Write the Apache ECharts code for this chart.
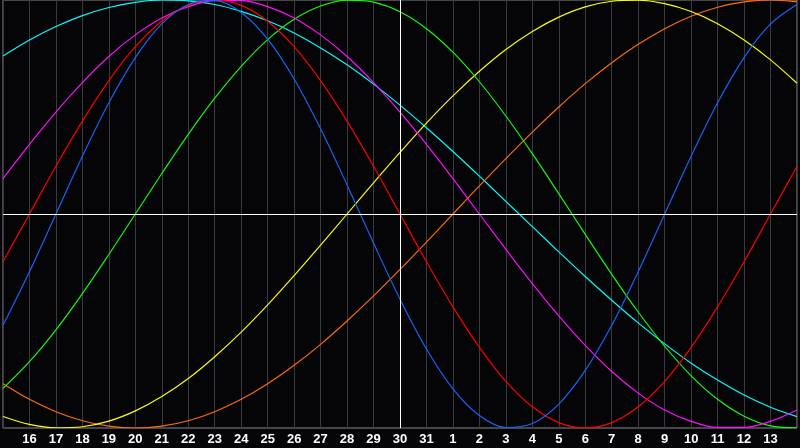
<!DOCTYPE html>
<html>
<head>
<meta charset="utf-8">
<script src="https://cdn.jsdelivr.net/npm/echarts@6/dist/echarts.min.js"></script>
<style>
html,body{margin:0;padding:0;background:#050508;}
#c{width:800px;height:448px;}
</style>
</head>
<body>
<div id="c"></div>
<script>
// Day labels (first and last are at the plot edges and are not labelled)
var days = ['15','16','17','18','19','20','21','22','23','24','25','26','27','28','29','30','31',
            '1','2','3','4','5','6','7','8','9','10','11','12','13','14'];
var todayLabel = '30';

// Cycle values in percent, one per day
var blueVals    = [-52.0,-27.0,0,27.0,52.0,73.1,88.8,97.9,99.8,94.2,81.7,63.1,39.8,13.6,-13.6,-39.8,-63.1,-81.7,-94.2,-99.8,-97.9,-88.8,-73.1,-52.0,-27.0,0,27.0,52.0,73.1,88.8,97.9];
var redVals     = [-22.3,0,22.3,43.4,62.3,78.2,90.1,97.5,100,97.5,90.1,78.2,62.3,43.4,22.3,0,-22.3,-43.4,-62.3,-78.2,-90.1,-97.5,-100,-97.5,-90.1,-78.2,-62.3,-43.4,-22.3,0,22.3];
var greenVals   = [-81.5,-69.0,-54.1,-37.2,-18.9,0,18.9,37.2,54.1,69.0,81.5,91.0,97.2,99.9,99.0,94.5,86.6,75.6,61.8,45.8,28.2,9.5,-9.5,-28.2,-45.8,-61.8,-75.6,-86.6,-94.5,-99.0,-99.9];
var magentaVals = [16.5,32.5,47.6,61.4,73.6,83.7,91.6,96.9,99.7,99.7,96.9,91.6,83.7,73.6,61.4,47.6,32.5,16.5,0,-16.5,-32.5,-47.6,-61.4,-73.6,-83.7,-91.6,-96.9,-99.7,-99.7,-96.9,-91.6];
var yellowVals  = [-94.6,-98.3,-99.9,-99.4,-96.8,-92.0,-85.3,-76.9,-66.7,-55.2,-42.5,-28.8,-14.6,0,14.6,28.8,42.5,55.2,66.7,76.9,85.3,92.0,96.8,99.4,99.9,98.3,94.6,88.9,81.3,72.0,61.1];
var orangeVals  = [-79.3,-86.6,-92.4,-96.6,-99.1,-100,-99.1,-96.6,-92.4,-86.6,-79.3,-70.7,-60.9,-50.0,-38.3,-25.9,-13.1,0,13.1,25.9,38.3,50.0,60.9,70.7,79.3,86.6,92.4,96.6,99.1,100,99.1];
var cyanVals    = [73.8,81.3,87.6,92.7,96.5,98.9,100.0,99.6,97.9,94.7,90.3,84.6,77.6,69.7,60.7,50.9,40.3,29.2,17.7,5.9,-5.9,-17.7,-29.2,-40.3,-50.9,-60.7,-69.7,-77.6,-84.6,-90.3,-94.7];

var seriesDefs = [
  {name:'cyan', data:cyanVals, color:'#00ffff'},
  {name:'orange', data:orangeVals, color:'#ff6c0a'},
  {name:'yellow', data:yellowVals, color:'#ffff00'},
  {name:'green', data:greenVals, color:'#10ff10'},
  {name:'magenta', data:magentaVals, color:'#ff10ff'},
  {name:'red', data:redVals, color:'#ff0000'},
  {name:'blue', data:blueVals, color:'#1468ff'}
];

var chart = echarts.init(document.getElementById('c'), null, {renderer:'canvas'});
var series = seriesDefs.map(function(s){
  return {
    name:s.name, type:'line', data:s.data, smooth:0.34, showSymbol:false, symbol:'none',
    lineStyle:{color:s.color, width:1.15}, itemStyle:{color:s.color},
    animation:false, silent:true, z:3
  };
});
series.push({
  type:'line', data:[], silent:true, z:2,
  markLine:{
    silent:true, symbol:['none','none'], animation:false,
    label:{show:false},
    lineStyle:{color:'#ffffff', width:1, type:'solid'},
    data:[{xAxis:todayLabel},{yAxis:0}]
  }
});

chart.setOption({
  backgroundColor:'#050508',
  animation:false,
  grid:{left:0, right:1, top:0, bottom:20, show:true, borderColor:'#8a8a8a', borderWidth:1, backgroundColor:'#050508'},
  xAxis:{
    type:'category', data:days, boundaryGap:false,
    axisLine:{show:false}, axisTick:{show:false},
    axisLabel:{
      color:'#ffffff', fontFamily:'Liberation Sans', fontWeight:'bold', fontSize:13, margin:5,
      interval:0, showMinLabel:false, showMaxLabel:false,
      formatter:function(v,i){ return (i===0||i===days.length-1)?'':v; }
    },
    splitLine:{show:true, lineStyle:{color:'#3a3a3e', width:1}}
  },
  yAxis:{
    type:'value', min:-100, max:100, show:false,
    splitLine:{show:false}
  },
  series:series
});
</script>
</body>
</html>
